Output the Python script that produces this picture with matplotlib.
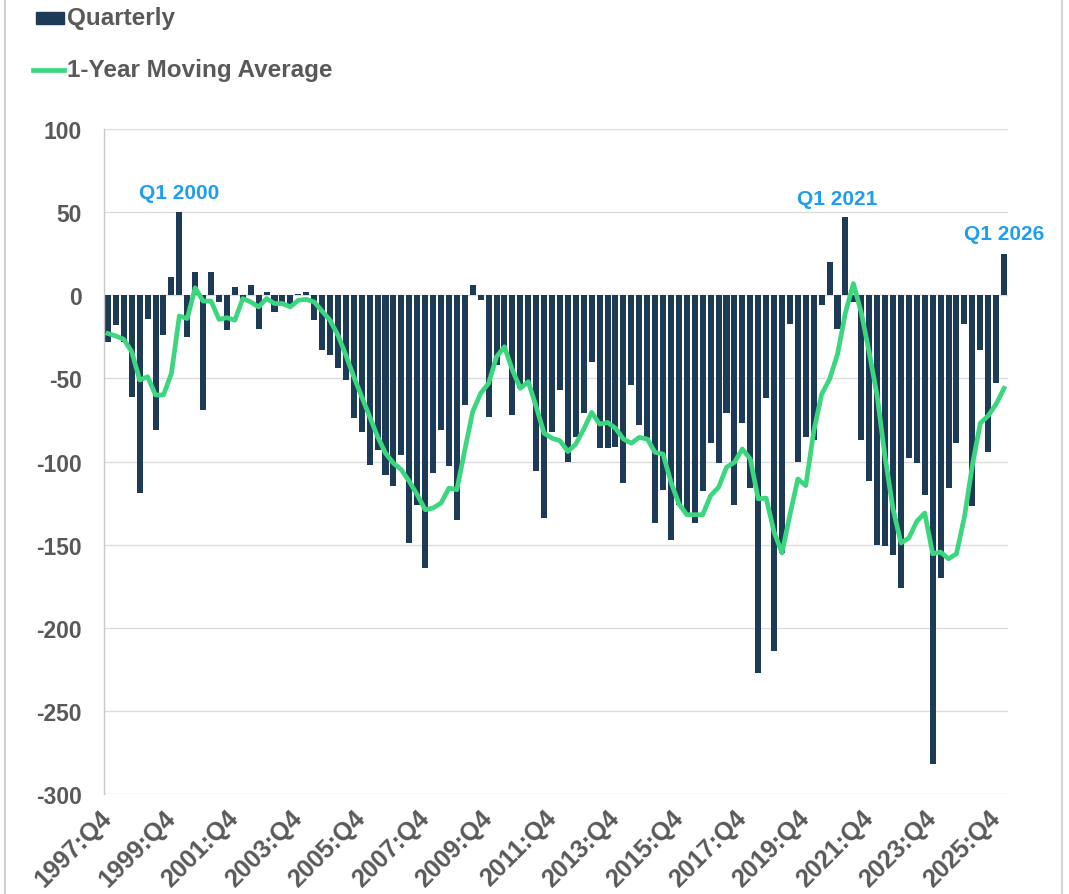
import matplotlib
matplotlib.use("Agg")
import matplotlib.pyplot as plt
from matplotlib.patches import Rectangle
from matplotlib.lines import Line2D
import numpy as np

plt.rcParams['font.family'] = ['Liberation Sans', 'DejaVu Sans']

quarterly = [-28, -18, -28, -61, -119, -14, -81, -24, 11, 50,
             -25, 14, -69, 14, -4, -21, 5, -2, 6, -20,
             2, -10, -4, -5, 1, 2, -15, -33, -36, -44,
             -51, -74, -82, -102, -93, -108, -115, -96, -149, -126,
             -164, -107, -81, -103, -135, -66, 6, -3, -73, -42,
             -34, -72, -56, -52, -106, -134, -82, -57, -100, -85,
             -71, -40, -92, -92, -91, -113, -54, -78, -86, -137,
             -117, -147, -126, -132, -137, -118, -89, -101, -71, -126,
             -77, -116, -227, -62, -214, -155, -17, -100, -85, -87,
             -6, 20, -20, 47, -4, -87, -112, -150, -151, -156,
             -176, -98, -101, -120, -282, -170, -116, -89, -17, -127,
             -33, -94, -53, 25]

moving_avg = [-23, -24.5, -26.5, -34, -51, -49, -60, -60, -47, -12.5,
              -14, 4.5, -3.5, -3.5, -14.5, -13.5, -15, -2, -4, -7,
              -2, -5, -5, -7, -3, -2.5, -4, -9.5, -15, -24,
              -36, -49, -61, -73, -85, -95, -101, -105, -112, -120,
              -129, -128, -125, -116, -117, -93, -70, -59, -53, -37,
              -31, -45, -56, -52, -67, -83, -86, -87.5, -94, -89.5,
              -80.5, -70.5, -77.5, -76.5, -80, -86.5, -89, -85.5, -86.5, -94.5,
              -95.5, -112.5, -125.5, -132, -132, -132, -120.5, -115.5, -103.5, -100.5,
              -92.5, -98.5, -122.5, -122, -142.5, -155, -132, -110.5, -114.5, -82,
              -59.5, -50.5, -35.5, -10.5, 7, -10.5, -34.5, -60.5, -97.5, -128.5,
              -149, -146, -136, -131, -155.5, -154.5, -158.5, -155.5, -133.5, -102.5,
              -77, -72.5, -65.5, -56]

# quarter labels 1997:Q4 .. 2026:Q1
quarters = []
y, q = 1997, 4
for _ in range(len(quarterly)):
    quarters.append(f"{y}:Q{q}")
    q += 1
    if q > 4:
        q = 1
        y += 1

tick_idx = list(range(0, len(quarters), 8))
tick_labels = [quarters[i] for i in tick_idx]

annotations = [("Q1 2000", "2000:Q1", 62, 0), ("Q1 2021", "2021:Q1", 58, -1), ("Q1 2026", "2026:Q1", 37, 0)]

NAVY = '#1d3a56'
GREEN = '#3cd67f'
GRAY_TXT = '#595959'
BLUE = '#1f9ef0'

fig = plt.figure(figsize=(10.69, 8.95), dpi=100)
ax = fig.add_axes([104/1069, 1 - 795/895, (1008-104)/1069, (795-130)/895])

x = np.arange(len(quarterly))
ax.bar(x, quarterly, width=0.76, color=NAVY, zorder=2, label='Quarterly')
ax.plot(x, moving_avg, color=GREEN, lw=3.4, zorder=3, solid_joinstyle='round',
        label='1-Year Moving Average')

ax.set_xlim(-0.5, len(quarterly) - 0.5)
ax.set_ylim(-300, 100)
ax.set_yticks(np.arange(-300, 101, 50))
ax.set_yticklabels([str(v) for v in range(-300, 101, 50)])
ax.grid(axis='y', color='#dcdcdc', lw=1.0, zorder=0)
ax.set_axisbelow(True)
for s in ['top', 'right', 'bottom']:
    ax.spines[s].set_visible(False)
ax.spines['left'].set_color('#c8c8c8')
ax.spines['left'].set_linewidth(1.0)

ax.set_xticks(tick_idx)
ax.set_xticklabels(tick_labels, rotation=45, ha='right', va='center',
                   rotation_mode='anchor')
ax.tick_params(axis='x', length=0, pad=14, labelsize=18, labelcolor=GRAY_TXT)
ax.tick_params(axis='y', length=0, pad=16, labelsize=16.5, labelcolor=GRAY_TXT)
for lab in ax.get_xticklabels() + ax.get_yticklabels():
    lab.set_fontweight('bold')

for text, qlabel, yv, dx in annotations:
    i = quarters.index(qlabel)
    ax.text(i + dx, yv, text, color=BLUE, fontsize=15, fontweight='bold',
            ha='center', va='center', clip_on=False, zorder=4)

# legend drawn in figure coordinates
fig.add_artist(Rectangle((36/1069, 1 - 25/895), 28/1069, 12/895,
                         transform=fig.transFigure, color=NAVY))
fig.add_artist(Line2D([33/1069, 64/1069], [1 - 71/895, 1 - 71/895],
                      transform=fig.transFigure, color=GREEN, lw=3.4))
fig.text(67/1069, 1 - 19/895, 'Quarterly', fontsize=17.5, fontweight='bold',
         color=GRAY_TXT, va='center', ha='left')
fig.text(67/1069, 1 - 71/895, '1-Year Moving Average', fontsize=17.5,
         fontweight='bold', color=GRAY_TXT, va='center', ha='left')

# screenshot frame
fig.add_artist(Line2D([5/1069, 5/1069], [0, 1], transform=fig.transFigure,
                      color='#cfcfcf', lw=1.5))
fig.add_artist(Line2D([1062/1069, 1062/1069], [0, 1], transform=fig.transFigure,
                      color='#d5d5d5', lw=1.5))

fig.savefig('out.png', dpi=100)
